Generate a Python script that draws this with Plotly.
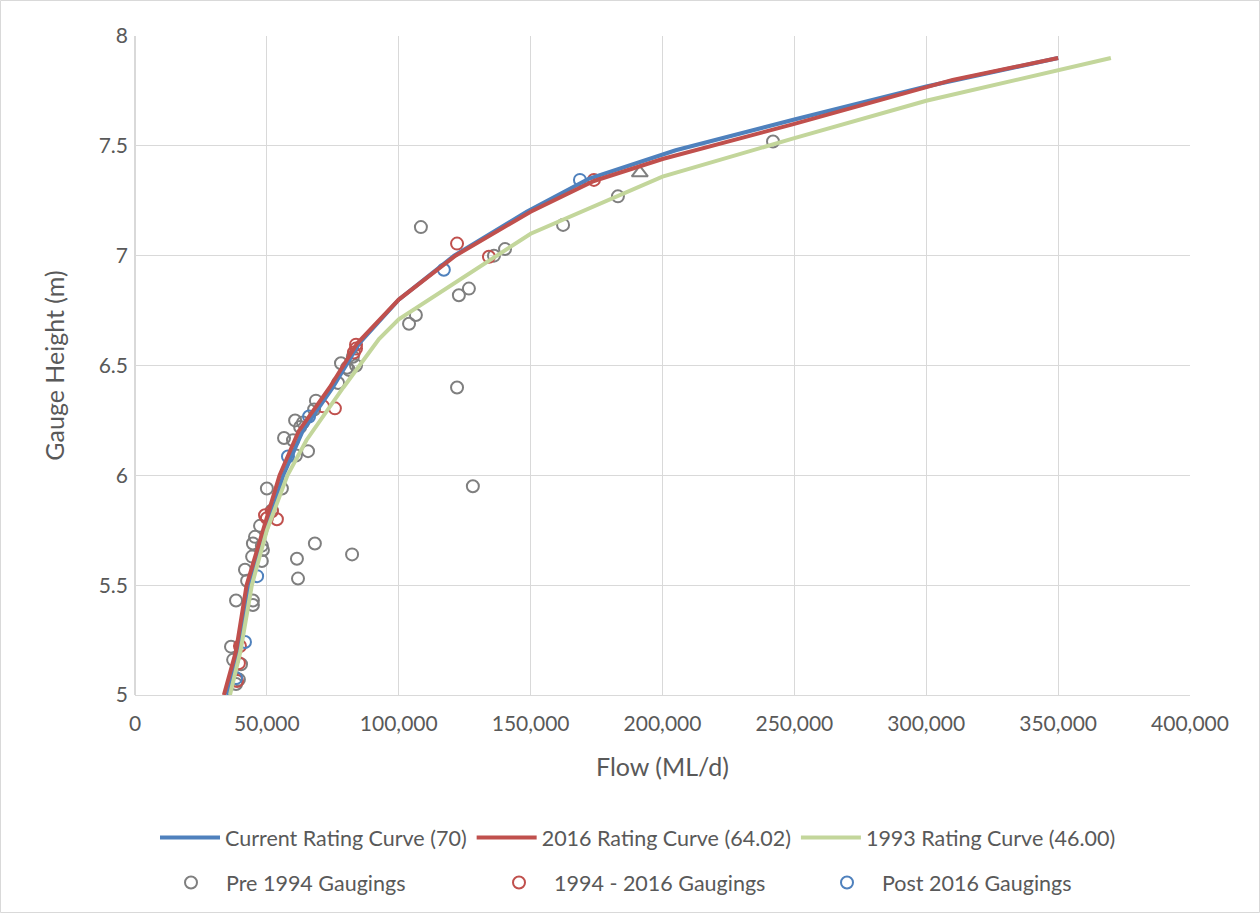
import plotly.graph_objects as go

# Rating curves (flow ML/d, gauge height m)
current_flow = [35000, 39300, 43500, 49800, 56200, 63500, 75000, 80000, 85000, 100000, 121000, 148500, 172000, 205000, 250000, 300000, 350000]
current_height = [5.0, 5.2, 5.5, 5.75, 6.0, 6.2, 6.4, 6.5, 6.6, 6.8, 7.0, 7.2, 7.35, 7.48, 7.62, 7.77, 7.9]

r2016_flow = [33700, 38300, 42300, 48500, 54800, 62000, 73800, 79000, 84200, 100000, 121500, 150000, 174000, 200000, 250000, 310000, 350000]
r2016_height = [5.0, 5.2, 5.5, 5.75, 6.0, 6.2, 6.4, 6.5, 6.6, 6.8, 7.0, 7.2, 7.34, 7.44, 7.6, 7.8, 7.9]

r1993_flow = [36000, 40000, 44300, 50000, 57800, 65000, 79000, 92500, 100000, 150000, 200000, 250000, 300000, 370000]
r1993_height = [5.0, 5.2, 5.5, 5.75, 6.0, 6.16, 6.4, 6.62, 6.71, 7.1, 7.36, 7.535, 7.705, 7.9]

# Gaugings
pre1994_flow = [108400, 241900, 183100, 162300, 140300, 136100, 126600, 122800, 106500, 103900,
                122100, 128100, 82300, 68200, 61400, 61800, 77000, 78100, 80400, 81100,
                83800, 82600, 68600, 67900, 60700, 62600, 63700, 56500, 59900, 65600,
                61000, 50000, 55700, 51900, 47400, 45500, 44700, 48100, 48500, 44400,
                48100, 41700, 42500, 38300, 44700, 44700, 36400, 37200, 40200, 39400, 38300]
pre1994_height = [7.13, 7.52, 7.27, 7.14, 7.03, 7.00, 6.85, 6.82, 6.73, 6.69,
                  6.40, 5.95, 5.64, 5.69, 5.62, 5.53, 6.42, 6.51, 6.49, 6.48,
                  6.50, 6.54, 6.34, 6.30, 6.25, 6.22, 6.24, 6.17, 6.16, 6.11,
                  6.09, 5.94, 5.94, 5.84, 5.77, 5.72, 5.69, 5.68, 5.66, 5.63,
                  5.61, 5.57, 5.52, 5.43, 5.43, 5.41, 5.22, 5.16, 5.14, 5.07, 5.05]

g1994_2016_flow = [122100, 174000, 134200, 83800, 83800, 83000, 71300, 75800, 49300, 51900, 53800, 50000, 39800, 39400, 38700]
g1994_2016_height = [7.055, 7.345, 6.995, 6.595, 6.577, 6.559, 6.314, 6.305, 5.818, 5.836, 5.80, 5.805, 5.223, 5.145, 5.064]

post2016_flow = [168700, 117100, 66000, 58000, 46300, 41700, 38300]
post2016_height = [7.345, 6.936, 6.268, 6.086, 5.541, 5.241, 5.077]

other_flow = [191400]
other_height = [7.377]

x_ticks = [0, 50000, 100000, 150000, 200000, 250000, 300000, 350000, 400000]
y_ticks = [5, 5.5, 6, 6.5, 7, 7.5, 8]

FONT = "Lato, 'Open Sans', sans-serif"
TXT = "#595959"

fig = go.Figure()

def circles(x, y, name, color, rank):
    fig.add_trace(go.Scatter(x=x, y=y, mode="markers", name=name, legendrank=rank, legend="legend2",
                             marker=dict(symbol="circle-open", size=12, color=color,
                                         line=dict(width=2, color=color))))

circles(pre1994_flow, pre1994_height, "Pre 1994 Gaugings", "#7f7f7f", 4)
circles(g1994_2016_flow, g1994_2016_height, "1994 - 2016 Gaugings", "#c0504d", 5)
circles(post2016_flow, post2016_height, "Post 2016 Gaugings", "#4f81bd", 6)
fig.add_trace(go.Scatter(x=other_flow, y=other_height, mode="markers", showlegend=False,
                         marker=dict(symbol="triangle-up-open", size=14, color="#7f7f7f",
                                     line=dict(width=2, color="#7f7f7f"))))

fig.add_trace(go.Scatter(x=current_flow, y=current_height, mode="lines", name="Current Rating Curve (70)",
                         legendrank=1, line=dict(color="#4f81bd", width=4)))
fig.add_trace(go.Scatter(x=r2016_flow, y=r2016_height, mode="lines", name="2016 Rating Curve (64.02)",
                         legendrank=2, line=dict(color="#c0504d", width=4)))
fig.add_trace(go.Scatter(x=r1993_flow, y=r1993_height, mode="lines", name="1993 Rating Curve (46.00)",
                         legendrank=3, line=dict(color="#c3d69b", width=4)))

pw = 1260 - 135 - 70
ph = 913 - 36 - 218

leg_common = dict(orientation="h", xanchor="left", yanchor="top",
                  itemwidth=60, font=dict(size=21.5, color=TXT), traceorder="normal",
                  bgcolor="rgba(0,0,0,0)")

fig.update_layout(
    width=1260, height=913,
    margin=dict(l=135, r=70, t=36, b=218, autoexpand=False),
    paper_bgcolor="white", plot_bgcolor="white",
    font=dict(family=FONT, size=21, color=TXT),
    xaxis=dict(range=[0, 400000], tickvals=x_ticks, tickformat=",", showgrid=True,
               gridcolor="#d9d9d9", gridwidth=1.3, zeroline=True, zerolinecolor="#d9d9d9",
               showline=True, linecolor="#d9d9d9", linewidth=1.3, ticks="",
               ticklabelstandoff=10,
               tickfont=dict(size=21, color=TXT),
               title=dict(text="Flow (ML/d)", font=dict(size=25, color=TXT), standoff=24)),
    yaxis=dict(range=[5, 8], tickvals=y_ticks, showgrid=True, gridcolor="#d9d9d9", gridwidth=1.3,
               zeroline=False, showline=False, ticks="", ticklabelstandoff=6,
               tickfont=dict(size=21, color=TXT),
               title=dict(text="Gauge Height (m)", font=dict(size=25, color=TXT), standoff=26)),
    legend=dict(**leg_common, x=(155 - 135) / pw, y=(695 - 817) / ph),
    legend2=dict(**leg_common, x=(156 - 135) / pw, y=(695 - 862) / ph,
                 entrywidth=253, entrywidthmode="pixels"),
    shapes=[dict(type="rect", xref="paper", yref="paper",
                 x0=(0.5 - 135) / pw, x1=(1259.5 - 135) / pw,
                 y0=(695 - 912.5) / ph, y1=(695 - 0.5) / ph,
                 line=dict(color="#d9d9d9", width=1), layer="below")],
)

fig.write_html("out.html")
